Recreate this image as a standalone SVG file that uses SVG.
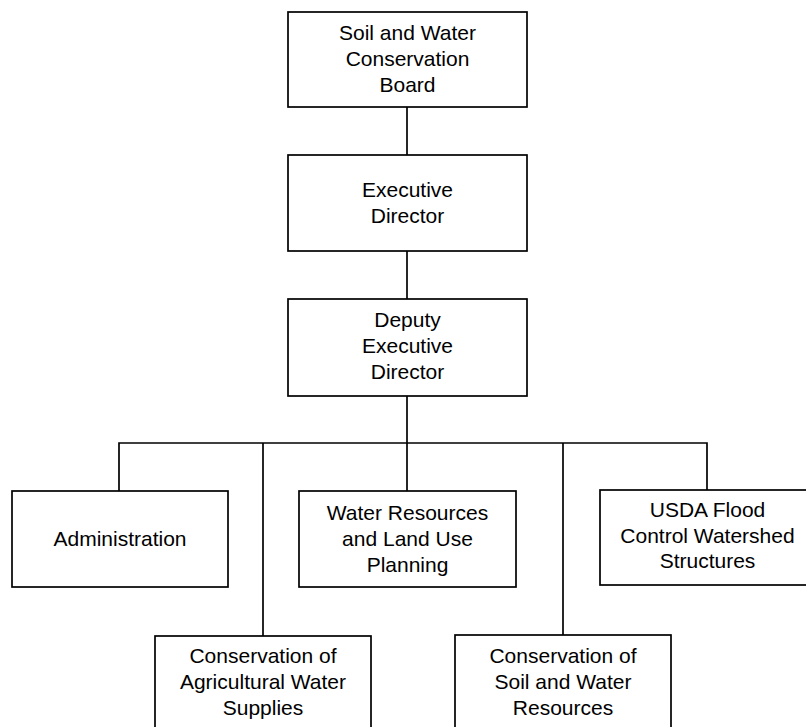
<svg xmlns="http://www.w3.org/2000/svg" width="806" height="727" viewBox="0 0 806 727">
<style>
.box{fill:#fff;stroke:#000;stroke-width:1.7}
.ln{fill:none;stroke:#000;stroke-width:1.7}
text{font-family:"Liberation Sans",Arial,sans-serif;font-size:21px;fill:#000;text-anchor:middle}
</style>
<rect width="806" height="727" fill="#fff"/>
<g id="connectors">
<line class="ln" x1="407" y1="107" x2="407" y2="155"/>
<line class="ln" x1="407" y1="251" x2="407" y2="299"/>
<line class="ln" x1="407" y1="396" x2="407" y2="491"/>
<polyline class="ln" points="119,491 119,443 707,443 707,490"/>
<line class="ln" x1="263" y1="443" x2="263" y2="636"/>
<line class="ln" x1="563" y1="443" x2="563" y2="635"/>
</g>
<g id="board">
<rect class="box" x="288" y="12" width="239" height="95"/>
<text x="407.5" y="40">Soil and Water</text>
<text x="407.5" y="66">Conservation</text>
<text x="407.5" y="92">Board</text>
</g>
<g id="executive-director">
<rect class="box" x="288" y="155" width="239" height="96"/>
<text x="407.5" y="197">Executive</text>
<text x="407.5" y="223">Director</text>
</g>
<g id="deputy-executive-director">
<rect class="box" x="288" y="299" width="239" height="97"/>
<text x="407.5" y="327">Deputy</text>
<text x="407.5" y="353">Executive</text>
<text x="407.5" y="379">Director</text>
</g>
<g id="administration">
<rect class="box" x="12" y="491" width="216" height="96"/>
<text x="120" y="546">Administration</text>
</g>
<g id="water-resources">
<rect class="box" x="299" y="491" width="217" height="96"/>
<text x="407.5" y="520">Water Resources</text>
<text x="407.5" y="546">and Land Use</text>
<text x="407.5" y="572">Planning</text>
</g>
<g id="usda">
<rect class="box" x="600" y="490" width="216" height="95"/>
<text x="707.5" y="517">USDA Flood</text>
<text x="707.5" y="543">Control Watershed</text>
<text x="707.5" y="568">Structures</text>
</g>
<g id="agricultural-water">
<rect class="box" x="155" y="636" width="216" height="110"/>
<text x="263" y="663">Conservation of</text>
<text x="263" y="689">Agricultural Water</text>
<text x="263" y="715">Supplies</text>
</g>
<g id="soil-water">
<rect class="box" x="455" y="635" width="216" height="110"/>
<text x="563" y="663">Conservation of</text>
<text x="563" y="689">Soil and Water</text>
<text x="563" y="715">Resources</text>
</g>
</svg>
